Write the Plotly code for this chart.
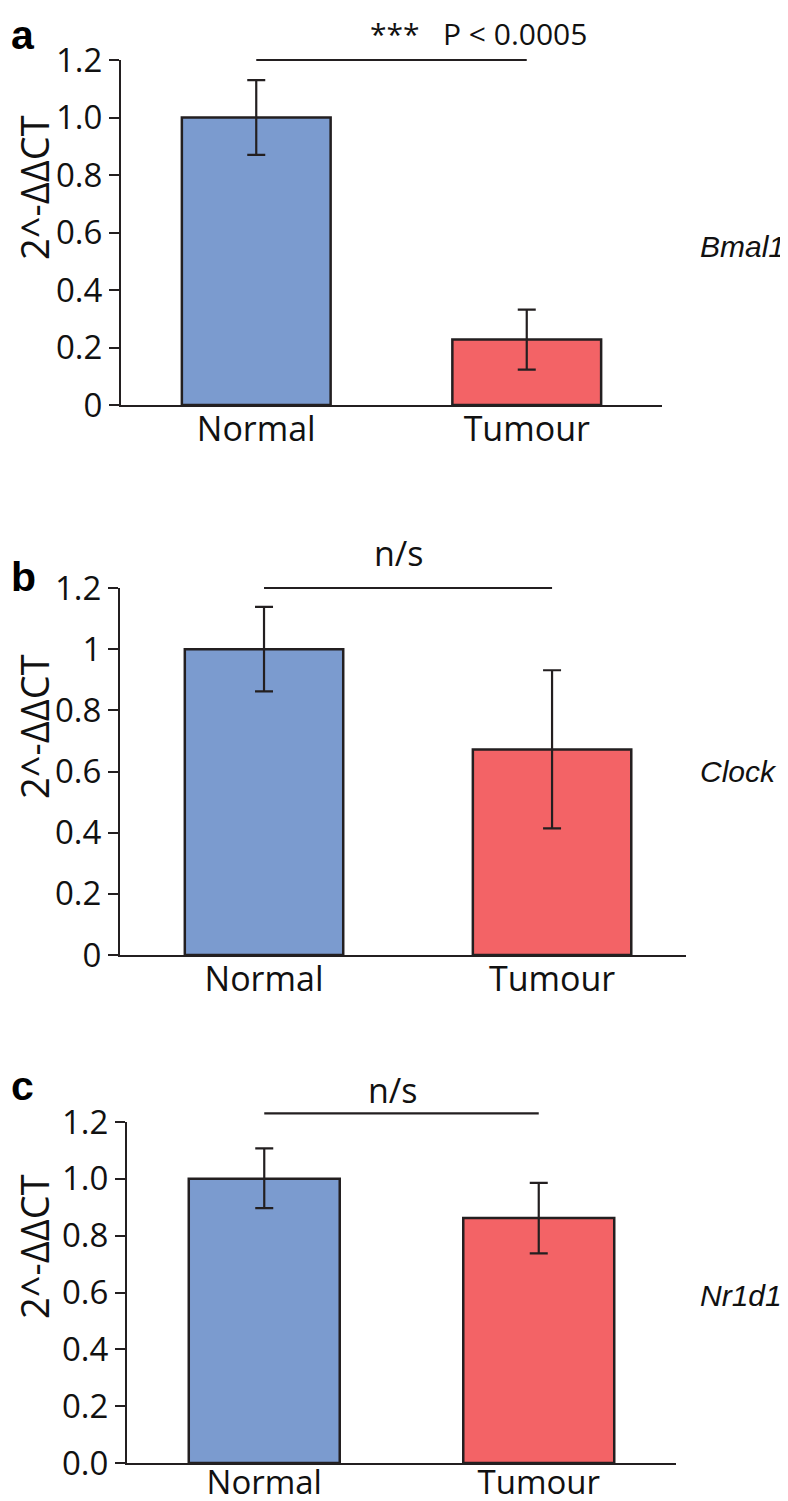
import plotly.graph_objects as go

# ---------------- data ----------------
categories = ["Normal", "Tumour"]

bmal1_values = [1.0, 0.228]
bmal1_err_plus = [0.13, 0.104]
bmal1_err_minus = [0.13, 0.105]

clock_values = [1.0, 0.672]
clock_err_plus = [0.138, 0.259]
clock_err_minus = [0.138, 0.258]

nr1d1_values = [1.0, 0.862]
nr1d1_err_plus = [0.107, 0.124]
nr1d1_err_minus = [0.103, 0.124]

genes = ["Bmal1", "Clock", "Nr1d1"]
panel_letters = ["a", "b", "c"]
sig_texts = ["***   P < 0.0005", "n/s", "n/s"]
sig_levels = [1.2, 1.2, 1.23]
y_title = "2^-ΔΔCT"

tick_vals = [0, 0.2, 0.4, 0.6, 0.8, 1.0, 1.2]
tick_text_a = ["0", "0.2", "0.4", "0.6", "0.8", "1.0", "1.2"]
tick_text_b = ["0", "0.2", "0.4", "0.6", "0.8", "1", "1.2"]
tick_text_c = ["0.0", "0.2", "0.4", "0.6", "0.8", "1.0", "1.2"]

# ---------------- style / layout ----------------
W, H = 788, 1501
OFF = 8  # page body margin offset
DARK = "#231f20"
BAR_COLORS = ["#7b9bcf", "#f36366"]
FONT = "Open Sans"
HID_TOP = 1.3

def fx(px):
    return (px - OFF) / W

def fy(py):
    return 1 - (py - OFF) / H

# panel geometry in reference pixels: (x_left, x_right, y_bottom, y_top, x_range_max)
panels = [
    (121, 662, 405, 60, 1.5),
    (120, 686, 955, 588, 1.465),
    (127, 676, 1463, 1122, 1.5),
]
title_y_px = [188, 727, 1247]
letter_y_px = [10, 556, 1064]
letter_shift = [0, 4, 3]
xlabel_standoff = [-7, -7, -11]
xlabel_size = [34, 34, 33]

values = [bmal1_values, clock_values, nr1d1_values]
eplus = [bmal1_err_plus, clock_err_plus, nr1d1_err_plus]
eminus = [bmal1_err_minus, clock_err_minus, nr1d1_err_minus]
tick_texts = [tick_text_a, tick_text_b, tick_text_c]

fig = go.Figure()
layout = dict(
    template="none",
    width=W, height=H,
    margin=dict(l=0, r=0, t=0, b=0, pad=0),
    paper_bgcolor="white", plot_bgcolor="rgba(0,0,0,0)",
    showlegend=False,
    font=dict(family=FONT, color="#111111"),
)
annotations = []

gene_y = [0.55, 0.6, 0.59]
ns_x = [0.82, 0.47, 0.47]
ns_shift = [4, 10, -2]
ns_size = [30, 34, 34]

for i, (xl, xr, yb, yt, xmax) in enumerate(panels):
    n = i + 1
    hid = i + 4
    xa = "x" if n == 1 else f"x{n}"
    ya = "y" if n == 1 else f"y{n}"
    xh = f"x{hid}"
    yh = f"y{hid}"

    fig.add_trace(go.Bar(
        x=categories, y=values[i],
        xaxis=xa, yaxis=ya,
        width=0.55,
        marker=dict(color=BAR_COLORS, line=dict(color=DARK, width=2.5)),
        error_y=dict(type="data", symmetric=False, array=eplus[i],
                     arrayminus=eminus[i], color=DARK, thickness=2.2, width=9),
    ))

    # significance bar on a hidden, taller overlay axis so it is not clipped
    fig.add_trace(go.Scatter(
        x=categories, y=[sig_levels[i]] * 2,
        xaxis=xh, yaxis=yh, mode="lines",
        line=dict(color=DARK, width=2.2), hoverinfo="skip",
    ))

    dom_x = [fx(xl), fx(xr)]
    y0, y1 = fy(yb), fy(yt)
    layout[f"xaxis{'' if n == 1 else n}"] = dict(
        domain=dom_x, anchor=ya, range=[-0.5, xmax], automargin=False,
        categoryorder="array", categoryarray=categories,
        showline=True, linecolor=DARK, linewidth=2, ticks="",
        showgrid=False, zeroline=False, ticklabelstandoff=xlabel_standoff[i],
        tickfont=dict(size=xlabel_size[i], family=FONT, color="#111111"),
    )
    layout[f"yaxis{'' if n == 1 else n}"] = dict(
        domain=[y0, y1], anchor=xa, range=[0, 1.2], automargin=False,
        tickvals=tick_vals, ticktext=tick_texts[i],
        showline=True, linecolor=DARK, linewidth=2,
        ticks="outside", ticklen=10, tickwidth=2, tickcolor=DARK,
        showgrid=False, zeroline=False,
        tickfont=dict(size=33, family=FONT, color="#111111"),
    )
    layout[f"xaxis{hid}"] = dict(
        domain=dom_x, anchor=yh, range=[-0.5, xmax], automargin=False,
        categoryorder="array", categoryarray=categories, visible=False,
    )
    layout[f"yaxis{hid}"] = dict(
        domain=[y0, min(1.0, y0 + (y1 - y0) * HID_TOP / 1.2)], anchor=xh,
        range=[0, HID_TOP], automargin=False, visible=False,
    )

    # y-axis title (rotated)
    annotations.append(dict(
        x=fx(34), y=fy(title_y_px[i]), xref="paper", yref="paper",
        text=y_title, textangle=-90, showarrow=False,
        xanchor="center", yanchor="middle",
        font=dict(size=38, family=FONT, color="#111111"),
    ))
    # significance text
    annotations.append(dict(
        x=ns_x[i], y=sig_levels[i], xref=xh, yref=yh,
        text=sig_texts[i], showarrow=False, yanchor="bottom", yshift=ns_shift[i],
        font=dict(size=ns_size[i], family=FONT, color="#111111"),
    ))
    # gene label
    annotations.append(dict(
        x=fx(698), y=gene_y[i], xref="paper", yref=ya,
        text=f"<i>{genes[i]}</i>", showarrow=False, xanchor="left", yanchor="middle",
        font=dict(size=30, family="Liberation Sans, Arial", color="#111111"),
    ))
    # panel letter
    annotations.append(dict(
        x=fx(9), y=fy(letter_y_px[i]), xref="paper", yref="paper",
        text=f"<b>{panel_letters[i]}</b>", showarrow=False, xanchor="left", yanchor="top",
        yshift=letter_shift[i],
        font=dict(size=41, family="Liberation Sans, Arial", color="#000000"),
    ))

layout["annotations"] = annotations
fig.update_layout(**layout)
fig.write_html("out.html")
